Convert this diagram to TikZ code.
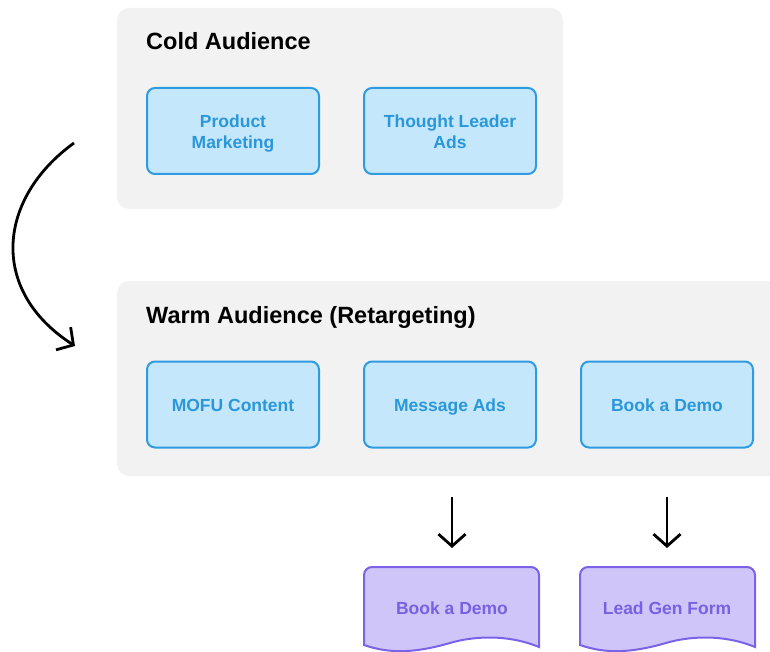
\documentclass[tikz,border=0pt]{standalone}
\usepackage{fontspec}
\setmainfont{Liberation Sans}
\usetikzlibrary{arrows.meta}
\definecolor{groupbg}{HTML}{F2F2F2}
\definecolor{bluefill}{HTML}{C5E7FB}
\definecolor{blueline}{HTML}{2F9BE0}
\definecolor{bluetext}{HTML}{2A97DA}
\definecolor{purfill}{HTML}{CFC5F8}
\definecolor{purline}{HTML}{7B62E8}
\definecolor{purtext}{HTML}{7A60E2}
\tikzset{
  group/.style={fill=groupbg, draw=none, rounded corners=12pt},
  item/.style={draw=blueline, fill=bluefill, line width=2pt, rounded corners=8pt,
    minimum width=172pt, minimum height=86pt, text=bluetext, align=center,
    font=\fontsize{17.5}{21}\selectfont\bfseries},
  itemtwo/.style={item, text height=36.5pt, text depth=2pt},
  itemone/.style={item, text height=15.5pt, text depth=2pt},
  grouptitle/.style={anchor=west, font=\fontsize{23.5}{28}\selectfont\bfseries, inner sep=0pt},
  doctext/.style={text=purtext, font=\fontsize{17.5}{21}\selectfont\bfseries},
  docshape/.style={draw=purline, fill=purfill, line width=2pt},
  flow/.style={line width=2.8pt, -{Straight Barb[length=12pt, width=27pt, line width=2.8pt]}},
}
\begin{document}
\begin{tikzpicture}[x=1pt,y=-1pt]
\useasboundingbox (0,0) rectangle (770,652);
% groups
\fill[group] (117,8) rectangle (563,209);
\node[grouptitle] (coldtitle) at (146,41) {Cold Audience};
\fill[group] (117,281) rectangle (800,476);
\node[grouptitle] (warmtitle) at (146,317) {Warm Audience (Retargeting)};
% items
\node[itemtwo] (pm) at (233,131) {Product\\Marketing};
\node[itemtwo] (tl) at (450,131) {Thought Leader\\Ads};
\node[itemone] (mofu) at (233,404.5) {MOFU Content};
\node[itemone] (msg) at (450,404.5) {Message Ads};
\node[itemone] (demo) at (667,404.5) {Book a Demo};
% documents
\draw[docshape] (364,645) -- (364,575) arc[start angle=180, end angle=270, radius=8] -- (531,567)
  arc[start angle=270, end angle=360, radius=8] -- (539,647)
  .. controls (505,633) and (470,637) .. (450,643) .. controls (415,653) and (390,654) .. (364,645) -- cycle;
\node[doctext] (d1) at (452,608) {Book a Demo};
\draw[docshape] (580,645) -- (580,575) arc[start angle=180, end angle=270, radius=8] -- (747,567)
  arc[start angle=270, end angle=360, radius=8] -- (755,647)
  .. controls (721,633) and (686,637) .. (666,643) .. controls (631,653) and (606,654) .. (580,645) -- cycle;
\node[doctext] (d2) at (667,608) {Lead Gen Form};
% arrows
\coordinate (a1s) at (452,497);
\coordinate (a1e) at (452,548);
\coordinate (a2s) at (667,497);
\coordinate (a2e) at (667,548);
\draw[flow] (a1s) -- (a1e);
\draw[flow] (a2s) -- (a2e);
\coordinate (cs) at (74,143);
\coordinate (ce) at (75,346);
\draw[flow] (cs) .. controls (-2,198) and (-12,290) .. (ce);
\end{tikzpicture}
\end{document}
